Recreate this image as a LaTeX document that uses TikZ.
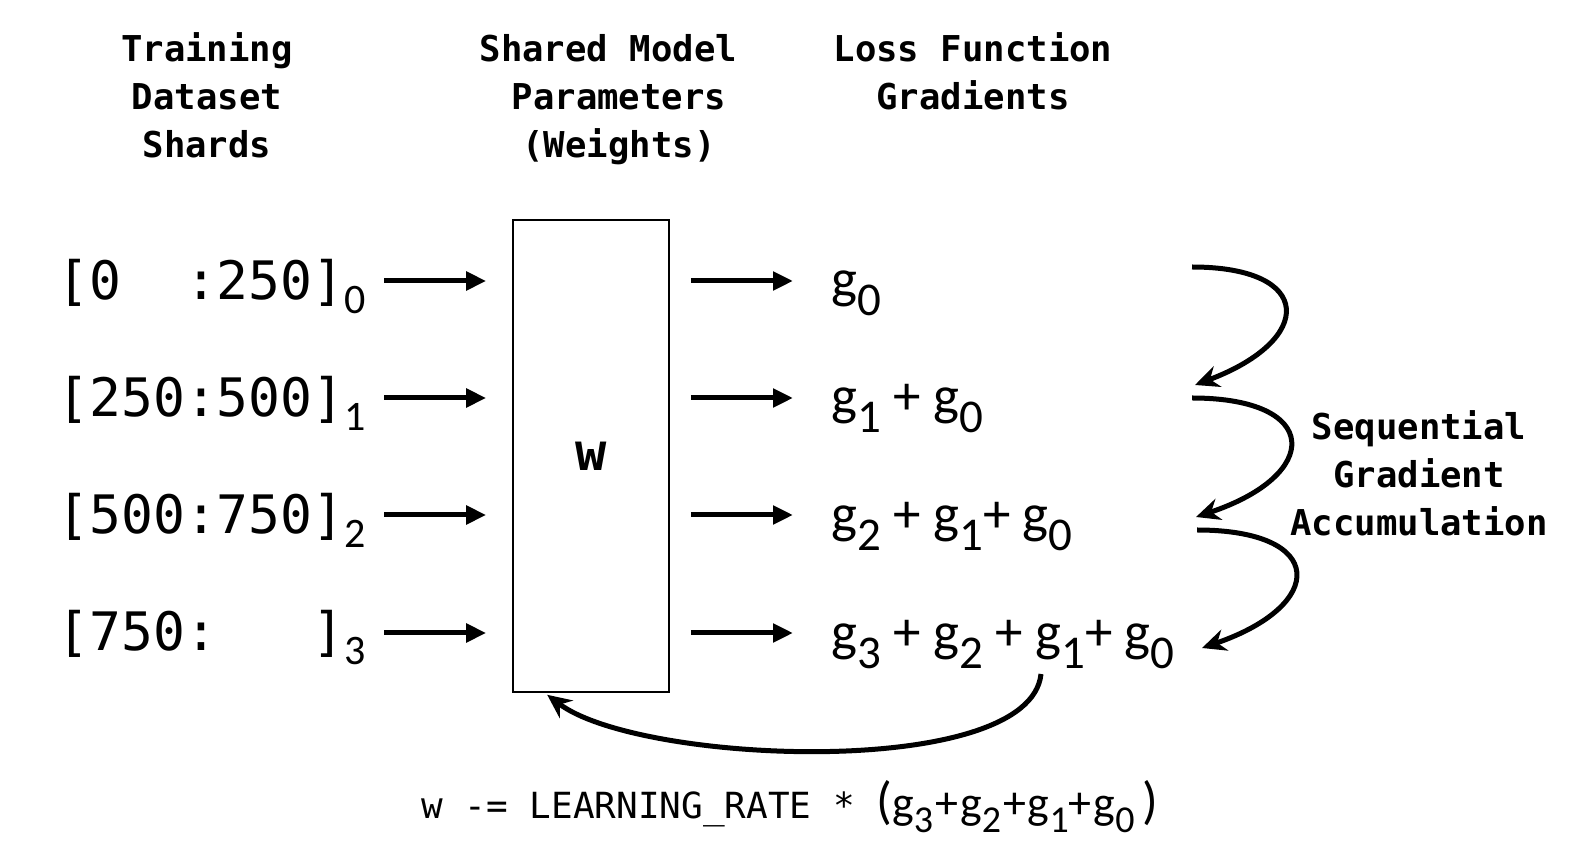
\documentclass[tikz,border=0pt]{standalone}
\usepackage{fontspec}
\setmainfont{Carlito}
\newfontfamily\monof{DejaVu Sans Mono}
\usetikzlibrary{arrows.meta}
\newcommand\lsub[1]{\raisebox{-7pt}{\rmfamily\fontsize{21}{21}\selectfont #1}}
\newcommand\gq[1]{g\raisebox{-9pt}{\fontsize{23.5}{24}\selectfont #1}}
\newcommand\gf[1]{g\raisebox{-7pt}{\fontsize{19}{19}\selectfont #1}}
\begin{document}
\begin{tikzpicture}[x=0.5pt,y=-0.5pt,
  hdr/.style={font=\monof\bfseries\fontsize{17.8}{24}\selectfont, anchor=base, inner sep=0pt},
  lbl/.style={font=\monof\fontsize{26.5}{30}\selectfont, anchor=base west, inner sep=0pt},
  gtxt/.style={font=\rmfamily\fontsize{27.5}{30}\selectfont, anchor=base west, inner sep=0pt},
  arr/.style={line width=2.5pt, -{Triangle[length=10pt,width=9pt]}},
  carr/.style={line width=2.5pt, -{Stealth[length=12pt,width=11pt,inset=4pt]}},
  wbox/.style={draw, line width=0.8pt, minimum width=78pt, minimum height=236pt, inner sep=0pt,
    font=\monof\bfseries\fontsize{26}{30}\selectfont}]
\useasboundingbox (0,0) rectangle (1590,854);

% headers
\node[hdr] (h1) at (207,62) {\begin{tabular}[t]{@{}c@{}}Training\\Dataset\\Shards\end{tabular}};
\node[hdr] (h2) at (619,62) {\begin{tabular}[t]{@{}c@{}}Shared Model\hphantom{x}\\Parameters\\(Weights)\end{tabular}};
\node[hdr] (h3) at (973,62) {\begin{tabular}[t]{@{}c@{}}Loss Function\\Gradients\end{tabular}};

% box
\node[wbox] (box) at (591,456) {w};

% rows
\coordinate (r0) at (0,281);
\coordinate (r1) at (0,398);
\coordinate (r2) at (0,515);
\coordinate (r3) at (0,633);

\node[lbl] (s0) at (57,300) {[0\hphantom{00}:250]\lsub{0}};
\node[lbl] (s1) at (57,417) {[250:500]\lsub{1}};
\node[lbl] (s2) at (57,534) {[500:750]\lsub{2}};
\node[lbl] (s3) at (57,651) {[750:\hphantom{000}]\lsub{3}};

\node[gtxt] (g0) at (831,298) {\gq{0}};
\node[gtxt] (g1) at (831,415) {\gq{1} + \gq{0}};
\node[gtxt] (g2) at (831,533) {\gq{2} + \gq{1}+ \gq{0}};
\node[gtxt] (g3) at (831,651) {\gq{3} + \gq{2} + \gq{1}+ \gq{0}};

\foreach \i in {0,1,2,3}{
  \draw[arr, shorten <=9pt, shorten >=13pt] (s\i.east |- r\i) -- (box.west |- r\i);
  \draw[arr, shorten <=10.5pt, shorten >=19pt] (box.east |- r\i) -- (g\i.west |- r\i);
}

% curved accumulation arrows
\coordinate (a0) at (1192,267);
\coordinate (a1) at (1195,385);
\coordinate (a2) at (1192,398);
\coordinate (a3) at (1196,517);
\coordinate (a4) at (1197,530);
\coordinate (a5) at (1202,648);
\draw[carr] (a0) .. controls (1315,267) and (1315,340) .. (a1);
\draw[carr] (a2) .. controls (1322,398) and (1322,475) .. (a3);
\draw[carr] (a4) .. controls (1327,530) and (1327,605) .. (a5);

\node[hdr] (seq) at (1419,440) {\begin{tabular}[t]{@{}c@{}}Sequential\\Gradient\\Accumulation\end{tabular}};

% update arrow
\coordinate (b0) at (1041,674);
\coordinate (b1) at ([xshift=17.5pt,yshift=-1pt]box.south west);
\draw[carr] (b0) .. controls (1030,780) and (640,765) .. (b1);

% formula
\node[anchor=base west, inner sep=0pt] (f) at (421,819)
  {{\monof\fontsize{18}{20}\selectfont w -= LEARNING\_RATE * }{\fontsize{26}{26}\selectfont (}{\fontsize{23}{24}\selectfont\gf{3}\kern1pt+\kern1pt\gf{2}\kern1pt+\kern1pt\gf{1}+\kern1pt\gf{0}}\kern4pt{\fontsize{26}{26}\selectfont )}};
\end{tikzpicture}
\end{document}
